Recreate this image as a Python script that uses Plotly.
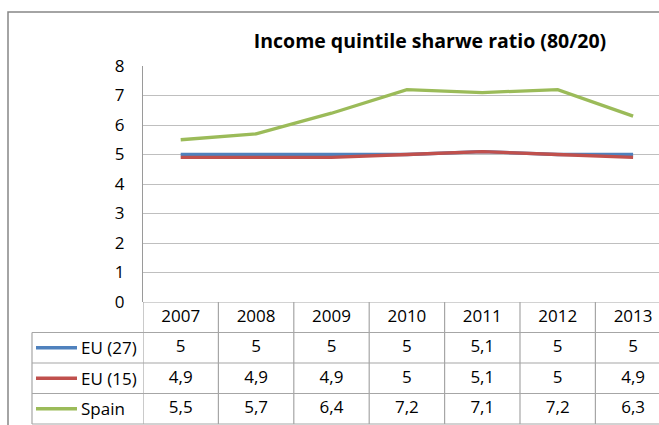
import plotly.graph_objects as go

# ---- data ----
years = ["2007", "2008", "2009", "2010", "2011", "2012", "2013"]
series_names = ["EU (27)", "EU (15)", "Spain"]
eu27 = [5, 5, 5, 5, 5.1, 5, 5]
eu15 = [4.9, 4.9, 4.9, 5, 5.1, 5, 4.9]
spain = [5.5, 5.7, 6.4, 7.2, 7.1, 7.2, 6.3]
y_ticks = [0, 1, 2, 3, 4, 5, 6, 7, 8]
title_text = "Income quintile sharwe ratio (80/20)"

series_values = [eu27, eu15, spain]
colors = ["#4F81BD", "#C0504D", "#9BBB59"]

# ---- layout geometry (pixels) ----
W, H = 659, 425
ML, MT, MR, MB = 143, 66, 0, 0
PW, PH = W - ML - MR, H - MT - MB
TABLE_TOP_PX = 302
TABLE_H_PX = H - TABLE_TOP_PX
COL_W_PX = 75.4
LABEL_COL_LEFT_PX = 32
FRAME_LEFT_PX, FRAME_TOP_PX = 8, 12

def px_x(px):
    return (px - ML) / PW

def px_y(px):
    return (H - MB - px) / PH

y2_top = TABLE_H_PX / PH
n_rows = len(series_names) + 1
row_px = 30.5
y2_low = n_rows - TABLE_H_PX / row_px

x_idx = list(range(len(years)))
x_max = -0.5 + PW / COL_W_PX

FONT = "Open Sans"
grid_col = "#BFBFBF"
table_col = "#A6A6A6"

def fmt(v):
    if float(v).is_integer():
        return str(int(v))
    return f"{v:.1f}".replace(".", ",")

fig = go.Figure()

for name, vals, c in zip(series_names, series_values, colors):
    fig.add_trace(go.Scatter(x=x_idx, y=vals, mode="lines", name=name,
                             line=dict(color=c, width=3.3), xaxis="x", yaxis="y",
                             hoverinfo="skip"))

# header row (years)
fig.add_trace(go.Scatter(x=x_idx, y=[n_rows - 0.5] * len(years), mode="text",
                         text=years, textfont=dict(family=FONT, size=17, color="#000"),
                         xaxis="x", yaxis="y2", cliponaxis=False, hoverinfo="skip"))
# value rows
for r, vals in enumerate(series_values):
    yc = n_rows - 1.5 - r
    fig.add_trace(go.Scatter(x=x_idx, y=[yc] * len(vals), mode="text",
                             text=[fmt(v) for v in vals],
                             textfont=dict(family=FONT, size=17, color="#000"),
                             xaxis="x", yaxis="y2", cliponaxis=False, hoverinfo="skip"))

shapes = []
# table vertical lines
for i in range(len(years)):
    xv = i - 0.5
    shapes.append(dict(type="line", xref="x", yref="y2", x0=xv, x1=xv, y0=0, y1=n_rows,
                       line=dict(color=table_col, width=1.2)))
# header top line
shapes.append(dict(type="line", xref="paper", yref="y2", x0=0, x1=1, y0=n_rows, y1=n_rows,
                   line=dict(color=table_col, width=1.2)))
# other horizontal lines incl. label column
for r in range(n_rows):
    shapes.append(dict(type="line", xref="paper", yref="y2", x0=px_x(LABEL_COL_LEFT_PX), x1=1,
                       y0=r, y1=r, line=dict(color=table_col, width=1.2)))
# label column left edge
shapes.append(dict(type="line", xref="paper", yref="y2", x0=px_x(LABEL_COL_LEFT_PX),
                   x1=px_x(LABEL_COL_LEFT_PX), y0=0, y1=n_rows - 1,
                   line=dict(color=table_col, width=1.2)))
# legend keys
annotations = []
for r, (name, c) in enumerate(zip(series_names, colors)):
    yc = n_rows - 1.5 - r
    shapes.append(dict(type="line", xref="paper", yref="y2", x0=px_x(36), x1=px_x(77),
                       y0=yc, y1=yc, line=dict(color=c, width=3.3)))
    annotations.append(dict(xref="paper", yref="y2", x=px_x(79), y=yc, text=name,
                            showarrow=False, xanchor="left", yanchor="middle",
                            font=dict(family=FONT, size=17, color="#000")))
# outer frame
shapes.append(dict(type="rect", xref="paper", yref="paper", x0=px_x(FRAME_LEFT_PX),
                   x1=1.2, y0=-0.2, y1=px_y(FRAME_TOP_PX),
                   line=dict(color="#868686", width=1.5), fillcolor="rgba(0,0,0,0)"))

fig.update_layout(
    width=W, height=H,
    margin=dict(l=ML, r=MR, t=MT, b=MB, autoexpand=False),
    paper_bgcolor="white", plot_bgcolor="white",
    showlegend=False,
    title=dict(text=f"<b>{title_text}</b>", xref="container", yref="container",
               x=430 / W, y=1 - 41 / H, xanchor="center", yanchor="middle",
               font=dict(family=FONT, size=19.5, color="#000")),
    xaxis=dict(range=[-0.5, x_max], showticklabels=False, showgrid=False, zeroline=False,
               showline=False, anchor="y2", fixedrange=True, automargin=False, ticks=""),
    yaxis=dict(domain=[y2_top, 1], range=[0, 8], tickvals=y_ticks, showgrid=True,
               gridcolor=grid_col, gridwidth=1.3, zeroline=False, showline=True,
               linecolor="#9A9A9A", linewidth=1.3, anchor="x", automargin=False,
               tickfont=dict(family=FONT, size=17, color="#000"),
               ticks="", ticklabelstandoff=14),
    yaxis2=dict(domain=[0, y2_top], range=[y2_low, n_rows], visible=False, anchor="x",
                automargin=False),
    shapes=shapes,
    annotations=annotations,
)

fig.write_html("out.html", config={"displayModeBar": False},
               post_script="document.body.style.margin='0px';document.body.style.overflow='hidden';")
